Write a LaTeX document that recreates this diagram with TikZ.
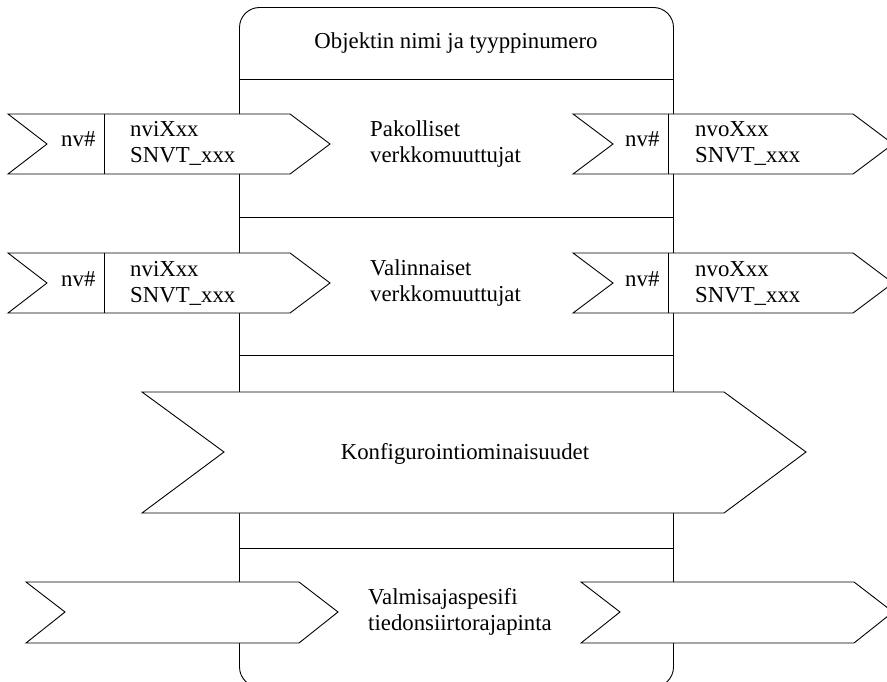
\documentclass[tikz,border=0pt]{standalone}
\usepackage{fontspec}
\setmainfont{Liberation Serif}
\begin{document}
\begin{tikzpicture}[x=1pt,y=-1pt,
  outline/.style={draw=black,line width=0.9pt,line join=miter},
  chev/.style={outline,fill=white},
  lbl/.style={inner sep=0pt,font=\fontsize{22.8pt}{26pt}\selectfont,align=left,anchor=base west},
  lblc/.style={inner sep=0pt,font=\fontsize{22.8pt}{26pt}\selectfont,anchor=base}]
\clip (0,0) rectangle (887,682);
\fill[white] (0,0) rectangle (887,682);

% object body: rounded frame and section dividers
\draw[outline,rounded corners=20pt] (239.5,7.5) rectangle (673.5,687);
\foreach \yy in {79,217,355,548}
  \draw[outline] (239.5,\yy) -- (673.5,\yy);
\node[lblc] (title) at (456,49) {Objektin nimi ja tyyppinumero};

% network variable rows (mandatory and optional); two-line labels are
% anchored at the baseline of their last line
\foreach \dy/\nm in {0/mand,139/opt}{
  \begin{scope}[yshift=-\dy pt]
    \draw[chev] (8,114) -- (290,114) -- (330,144) -- (290,174) -- (8,174) -- (47,144) -- cycle;
    \draw[outline] (104,114) -- (104,174);
    \draw[chev] (573,114) -- (853,114) -- (893,144) -- (853,174) -- (573,174) -- (613,144) -- cycle;
    \draw[outline] (668,114) -- (668,174);
    \node[lbl] (\nm inidx) at (61,147) {nv\#};
    \node[lbl] (\nm in) at (130,163) {nviXxx\\SNVT\_xxx};
    \node[lbl] (\nm outidx) at (625,147) {nv\#};
    \node[lbl] (\nm out) at (695,163) {nvoXxx\\SNVT\_xxx};
  \end{scope}
}
\node[lbl] (mandlbl) at (370,163) {Pakolliset\\verkkomuuttujat};
\node[lbl] (optlbl) at (370,301) {Valinnaiset\\verkkomuuttujat};

% configuration properties
\draw[chev] (142,392) -- (724,392) -- (806,452) -- (724,513) -- (142,513) -- (224,452) -- cycle;
\node[lblc] (config) at (465,459) {Konfigurointiominaisuudet};

% manufacturer specific interface
\draw[chev] (26,582) -- (299,582) -- (338,612) -- (299,643) -- (26,643) -- (65,612) -- cycle;
\draw[chev] (581,582) -- (854,582) -- (893,612) -- (854,643) -- (581,643) -- (620,612) -- cycle;
\node[lbl] (vendor) at (368,630) {Valmisajaspesifi\\tiedonsiirtorajapinta};
\end{tikzpicture}
\end{document}
